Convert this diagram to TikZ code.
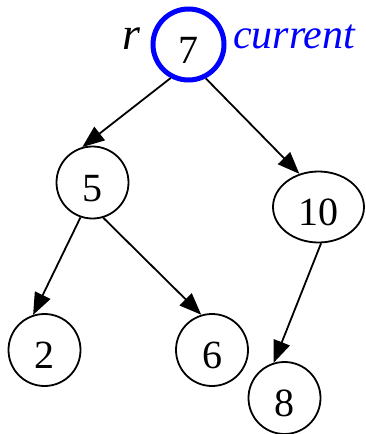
\documentclass[tikz,border=0pt]{standalone}
\usepackage{fontspec}
\setmainfont{Liberation Serif}
\usetikzlibrary{arrows.meta,shapes.geometric}
\definecolor{curblue}{RGB}{0,0,255}
\begin{document}
\begin{tikzpicture}[x=1pt,y=-1pt,
  treenode/.style={circle,draw=black,line width=1.8pt,minimum size=72pt,inner sep=0pt,
    font=\fontsize{40}{40}\selectfont,text height=37pt,text depth=0pt},
  edge/.style={line width=1.8pt,-{Triangle[length=22pt,width=17pt]}},
  tag/.style={inner sep=0pt,font=\fontsize{46}{46}\selectfont\itshape}]
\useasboundingbox (0,0) rectangle (366,434);

% tree nodes
\node[treenode,draw=curblue,line width=5pt,minimum size=71pt] (n7) at (188.5,44.5) {7};
\node[treenode] (n5) at (92.5,182.5) {5};
\node[treenode,ellipse,minimum width=91pt,minimum height=71pt] (n10) at (318.5,207) {10};
\node[treenode] (n2) at (44.5,350) {2};
\node[treenode] (n6) at (212,350) {6};
\node[treenode] (n8) at (284.5,398) {8};

% labels beside the root
\node[tag,anchor=base] (rlab) at (131.5,49) {r};
\node[tag,anchor=base west,text=curblue,font=\fontsize{42}{42}\selectfont\itshape] (curlab) at (233,48) {current};

% child links
\draw[edge] (n7.242.5) -- (n5.106);
\draw[edge] (n7.297) -- (n10.120);
\draw[edge] (n5.251) -- (n2.108);
\draw[edge] (n5.287) -- (n6.107.5);
\draw[edge] (n10.274) -- (n8.107);
\end{tikzpicture}
\end{document}
